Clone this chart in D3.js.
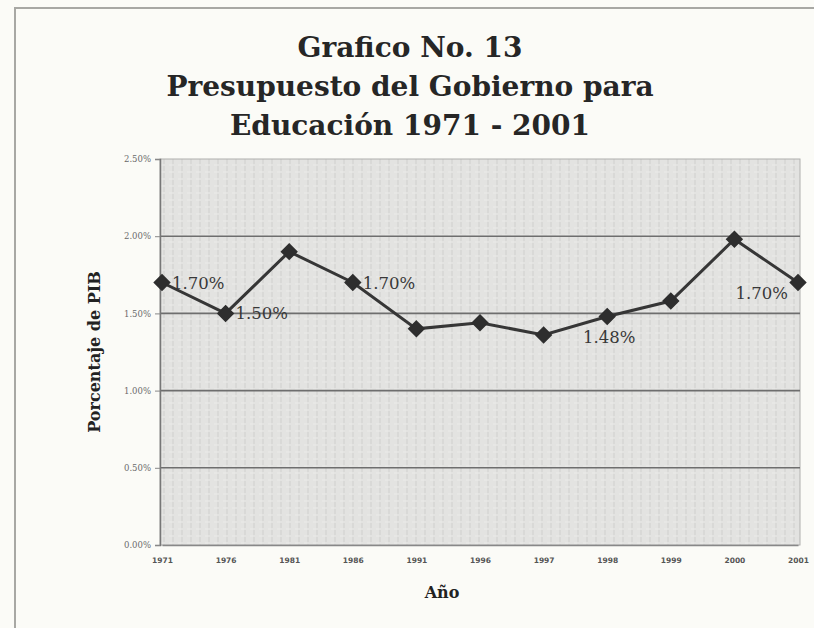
<!DOCTYPE html>
<html>
<head>
<meta charset="utf-8">
<style>
  body { margin: 0; background: #fbfbf7; }
  svg { display: block; }
</style>
</head>
<body>
<svg width="814" height="628"></svg>
<script src="https://d3js.org/d3.v7.min.js"></script>
<script>
// data
var years = ["1971", "1976", "1981", "1986", "1991", "1996", "1997", "1998", "1999", "2000", "2001"];
var values = [1.70, 1.50, 1.90, 1.70, 1.40, 1.44, 1.36, 1.48, 1.58, 1.98, 1.70];
var yTicks = [0, 0.5, 1.0, 1.5, 2.0, 2.5];
var labelled = ["1971", "1976", "1986", "1998", "2001"];
var titleLines = ["Grafico No. 13", "Presupuesto del Gobierno para", "Educación 1971 - 2001"];

var svg = d3.select("svg"),
    margin = {top: 159, right: 14, bottom: 83, left: 160},
    width = 814 - margin.left - margin.right,
    height = 628 - margin.top - margin.bottom;

// page frame
svg.append("path")
    .attr("d", "M814,8H15V628")
    .attr("fill", "none")
    .attr("stroke", "#a8a8a4")
    .attr("stroke-width", 2);

// faint scan texture for plot background
var defs = svg.append("defs");
var pat = defs.append("pattern")
    .attr("id", "tex")
    .attr("width", 9).attr("height", 7)
    .attr("patternUnits", "userSpaceOnUse");
pat.append("rect").attr("width", 9).attr("height", 7).attr("fill", "#e3e3e1");
pat.append("line").attr("x1", 4).attr("x2", 4).attr("y1", 0).attr("y2", 5)
    .attr("stroke", "#d0d0ce").attr("stroke-width", 1);
pat.append("line").attr("x1", 0).attr("x2", 3).attr("y1", 6).attr("y2", 6)
    .attr("stroke", "#ececea").attr("stroke-width", 1);

var g = svg.append("g").attr("transform", "translate(" + margin.left + "," + margin.top + ")");

var x = d3.scalePoint()
    .domain(years)
    .range([2, width - 2]);

var y = d3.scaleLinear()
    .domain([0, 2.5])
    .range([height, 0]);

g.append("rect")
    .attr("width", width)
    .attr("height", height)
    .attr("fill", "url(#tex)")
    .attr("stroke", "#b0b0ae");

// gridlines
g.append("g")
    .selectAll("line")
    .data(yTicks.slice(1, -1))
    .enter().append("line")
      .attr("x1", 0)
      .attr("x2", width)
      .attr("y1", function(d) { return y(d); })
      .attr("y2", function(d) { return y(d); })
      .attr("stroke", "#6e6e6e")
      .attr("stroke-width", 1.6);

// axes
var yAxis = g.append("g")
    .call(d3.axisLeft(y).tickValues(yTicks).tickSize(5).tickPadding(4)
      .tickFormat(function(d) { return d.toFixed(2) + "%"; }));
yAxis.select(".domain").attr("stroke", "#777").attr("stroke-width", 1.5);
yAxis.selectAll(".tick line").attr("stroke", "#888");
yAxis.selectAll("text")
    .attr("font-family", "DejaVu Serif")
    .attr("font-size", 8.5)
    .attr("fill", "#6a6a6a");

var xAxis = g.append("g")
    .attr("transform", "translate(0," + height + ")")
    .call(d3.axisBottom(x).tickSize(0).tickPadding(13));
xAxis.select(".domain").attr("stroke", "#888").attr("stroke-width", 1.5);
xAxis.selectAll("text")
    .attr("font-family", "DejaVu Sans")
    .attr("font-weight", "bold")
    .attr("font-size", 7.5)
    .attr("fill", "#555");

// line + markers
var line = d3.line()
    .x(function(d, i) { return x(years[i]); })
    .y(function(d) { return y(d); });

g.append("path")
    .datum(values)
    .attr("fill", "none")
    .attr("stroke", "#363636")
    .attr("stroke-width", 3)
    .attr("d", line);

g.append("g")
    .selectAll("path")
    .data(values)
    .enter().append("path")
      .attr("transform", function(d, i) { return "translate(" + x(years[i]) + "," + y(d) + ")"; })
      .attr("d", d3.symbol().type(d3.symbolDiamond2).size(150))
      .attr("fill", "#2e2e2e")
      .attr("stroke", "#2e2e2e")
      .attr("stroke-width", 1.5);

// data labels
var lab = g.append("g")
    .attr("font-family", "DejaVu Serif")
    .attr("font-size", 16.5)
    .attr("fill", "#383838");

values.forEach(function(v, i) {
  var yr = years[i];
  if (labelled.indexOf(yr) < 0) return;
  var t = lab.append("text").text(v.toFixed(2) + "%");
  if (yr === "1998") {
    t.attr("x", x(yr) + 2).attr("y", y(v) + 27).attr("text-anchor", "middle");
  } else if (yr === "2001") {
    t.attr("x", x(yr) - 10).attr("y", y(v) + 16).attr("text-anchor", "end");
  } else {
    t.attr("x", x(yr) + 10).attr("y", y(v) + 6).attr("text-anchor", "start");
  }
});

// axis titles
g.append("text")
    .attr("transform", "translate(-60," + (height / 2) + ") rotate(-90)")
    .attr("text-anchor", "middle")
    .attr("font-family", "DejaVu Serif")
    .attr("font-weight", "bold")
    .attr("font-size", 16)
    .attr("fill", "#222")
    .text("Porcentaje de PIB");

g.append("text")
    .attr("x", 282)
    .attr("y", height + 53)
    .attr("text-anchor", "middle")
    .attr("font-family", "DejaVu Serif")
    .attr("font-weight", "bold")
    .attr("font-size", 16)
    .attr("fill", "#222")
    .text("Año");

// title
svg.append("g")
    .selectAll("text")
    .data(titleLines)
    .enter().append("text")
      .attr("x", 410)
      .attr("y", function(d, i) { return 57 + i * 39; })
      .attr("text-anchor", "middle")
      .attr("font-family", "DejaVu Serif")
      .attr("font-weight", "bold")
      .attr("font-size", 28)
      .attr("fill", "#262626")
      .text(function(d) { return d; });
</script>
</body>
</html>
